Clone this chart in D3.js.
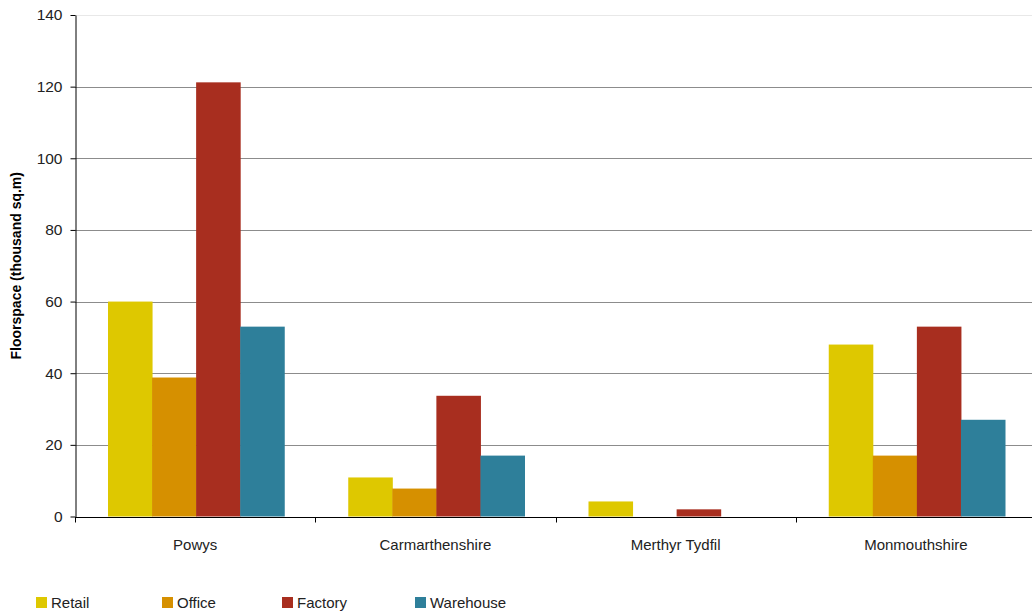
<!DOCTYPE html>
<html>
<head>
<meta charset="utf-8">
<script src="https://cdn.jsdelivr.net/npm/d3@7"></script>
<style>
  html, body { margin: 0; padding: 0; background: #fff; }
  svg { display: block; font-family: "Liberation Sans", Arial, sans-serif; }
</style>
</head>
<body>
<div id="chart"></div>
<script>
// Chart data
const categories = ["Powys", "Carmarthenshire", "Merthyr Tydfil", "Monmouthshire"];
const seriesNames = ["Retail", "Office", "Factory", "Warehouse"];
const retail = [60, 10.9, 4.2, 48];
const office = [38.8, 7.8, 0, 17];
const factory = [121.2, 33.7, 2, 53];
const warehouse = [53, 17, 0, 27];
const yTicks = [0, 20, 40, 60, 80, 100, 120, 140];

const seriesValues = [retail, office, factory, warehouse];
const colors = ["#dec800", "#d69000", "#a82e1f", "#2e7f9a"];

const width = 1032, height = 615;
const margin = { left: 75, top: 15, bottom: 98 };
const plotRight = 1036; // last band runs slightly past the window edge

const svg = d3.select("#chart")
    .append("svg")
    .attr("width", width)
    .attr("height", height);

// Scales
const y = d3.scaleLinear()
    .domain([0, 140])
    .range([height - margin.bottom - 0.5, margin.top]);

const x0 = d3.scaleBand()
    .domain(categories)
    .range([margin.left, plotRight]);

const x1 = d3.scaleBand()
    .domain(seriesNames)
    .range([33, x0.bandwidth() - 31]);

// Gridlines
svg.append("g")
    .selectAll("line")
    .data(yTicks.filter(t => t > 0))
    .enter()
    .append("line")
    .attr("x1", margin.left)
    .attr("x2", width)
    .attr("y1", d => Math.round(y(d)) + 0.5)
    .attr("y2", d => Math.round(y(d)) + 0.5)
    .attr("stroke", d => d === 140 ? "#e8e8e8" : "#8c8c8c")
    .attr("stroke-width", 1);

// Bars
const rows = categories.map((c, i) => ({
    category: c,
    values: seriesNames.map((s, j) => ({ series: s, value: seriesValues[j][i], color: colors[j] }))
}));

const group = svg.append("g")
    .selectAll("g")
    .data(rows)
    .enter()
    .append("g")
    .attr("transform", d => `translate(${x0(d.category)},0)`);

group.selectAll("rect")
    .data(d => d.values)
    .enter()
    .append("rect")
    .attr("x", d => x1(d.series))
    .attr("width", x1.bandwidth() + 0.5)
    .attr("y", d => y(d.value))
    .attr("height", d => y(0) - y(d.value))
    .attr("fill", d => d.color);

// Y axis
const yAxis = svg.append("g")
    .attr("transform", `translate(${margin.left + 0.5},0)`)
    .call(d3.axisLeft(y).tickValues(yTicks).tickSize(5).tickPadding(8).tickSizeOuter(0));
yAxis.select(".domain").attr("stroke", "#000");
yAxis.selectAll(".tick line").attr("stroke", "#000");
yAxis.selectAll(".tick text")
    .attr("fill", "#222")
    .style("font-size", "15.5px")
    .style("font-family", "'Liberation Sans', Arial, sans-serif");

// X axis
const xAxisY = Math.round(y(0)) + 0.5;
const xAxis = svg.append("g")
    .attr("transform", `translate(0,${xAxisY})`);
xAxis.append("line")
    .attr("x1", margin.left)
    .attr("x2", width)
    .attr("stroke", "#000");
xAxis.selectAll(".sep")
    .data(categories)
    .enter()
    .append("line")
    .attr("class", "sep")
    .attr("x1", d => Math.round(x0(d)) + 0.5)
    .attr("x2", d => Math.round(x0(d)) + 0.5)
    .attr("y1", 0)
    .attr("y2", 5)
    .attr("stroke", "#000");
xAxis.selectAll(".cat")
    .data(categories)
    .enter()
    .append("text")
    .attr("class", "cat")
    .attr("x", d => x0(d) + x0.bandwidth() / 2)
    .attr("y", 32)
    .attr("text-anchor", "middle")
    .attr("fill", "#222")
    .style("font-size", "15px")
    .text(d => d);

// Y axis title
svg.append("text")
    .attr("transform", `translate(21,${(y(0) + y(140)) / 2}) rotate(-90)`)
    .attr("text-anchor", "middle")
    .attr("fill", "#000")
    .style("font-size", "14px")
    .style("font-weight", "bold")
    .text("Floorspace (thousand sq.m)");

// Legend
const legendX = [36, 162, 282, 415];
const legend = svg.append("g")
    .selectAll("g")
    .data(seriesNames)
    .enter()
    .append("g")
    .attr("transform", (d, i) => `translate(${legendX[i]},597)`);
legend.append("rect")
    .attr("width", 11)
    .attr("height", 11)
    .attr("fill", (d, i) => colors[i]);
legend.append("text")
    .attr("x", 15)
    .attr("y", 11)
    .attr("fill", "#222")
    .style("font-size", "15px")
    .text(d => d);
</script>
</body>
</html>
